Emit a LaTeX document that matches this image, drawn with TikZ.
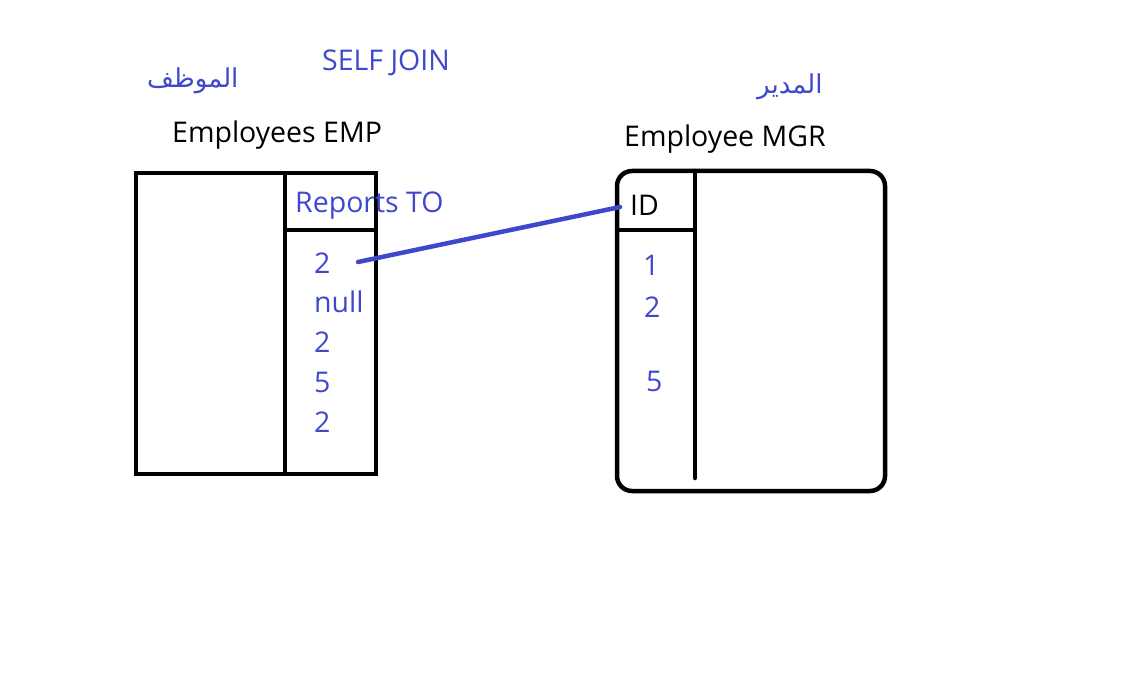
\documentclass[tikz,border=0pt]{standalone}
\usepackage{fontspec}
\setmainfont{Open Sans}
\newfontfamily\arabicfont[Script=Arabic]{DejaVu Sans}
\TeXXeTstate=1
\definecolor{pblue}{RGB}{63,72,204}
\begin{document}
\begin{tikzpicture}[x=1pt,y=-1pt,
  lbl/.style={inner sep=0pt,anchor=base west,font=\fontsize{28.5}{32}\selectfont},
  blbl/.style={lbl,text=pblue},
  arlbl/.style={inner sep=0pt,anchor=base west,text=pblue,font=\arabicfont\fontsize{26}{30}\selectfont},
  frame/.style={line width=4.5pt,black},
  link/.style={line width=4.5pt,pblue,line cap=round}]
\useasboundingbox (0,0) rectangle (1134,695);
% left table
\draw[frame] (136,173) rectangle (376,474);
\draw[frame] (285,173) -- (285,474);
\draw[frame] (285,230) -- (376,230);
% right table
\draw[frame,rounded corners=15pt] (617,171) rectangle (885,491);
\draw[frame,line cap=round] (695,171) -- (695,478);
\draw[frame] (617,230) -- (695,230);
% titles
\node[blbl] (self) at (322,71) {SELF JOIN};
\node[arlbl] (emp-ar) at (147,88) {\beginR الموظف\endR};
\node[arlbl] (mgr-ar) at (757,94) {\beginR المدير\endR};
\node[lbl] (emp) at (172,143) {Employees EMP};
\node[lbl] (mgr) at (624,147) {Employee MGR};
% left column
\node[blbl] (rep) at (295,212) {Reports TO};
\node[blbl] (l1) at (314,273) {2};
\node[blbl] (l2) at (314,312) {null};
\node[blbl] (l3) at (314,352) {2};
\node[blbl] (l4) at (314,392) {5};
\node[blbl] (l5) at (314,432) {2};
% right column
\node[lbl] (id) at (630,215) {ID};
\node[blbl] (r1) at (643,275) {1};
\node[blbl] (r2) at (644,317) {2};
\node[blbl] (r5) at (646,391) {5};
% link
\coordinate (a) at (358,262);
\coordinate (b) at (620,207);
\draw[link] (a) -- (b);
\end{tikzpicture}
\end{document}
